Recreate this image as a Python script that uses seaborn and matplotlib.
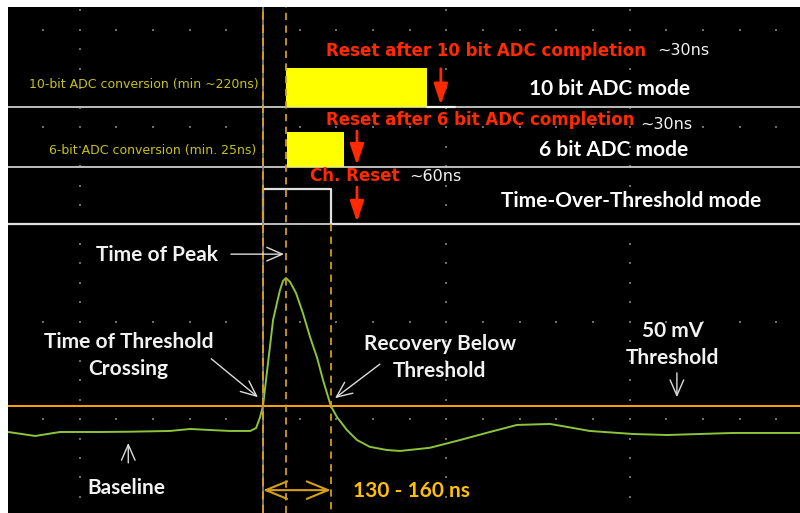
import numpy as np
import pandas as pd
import matplotlib
matplotlib.use("Agg")
import matplotlib.pyplot as plt
import seaborn as sns

# ---------------- data (time in ns rel. to threshold crossing, amplitude in mV) ----
trace_t = [-556, -497, -443, -356, -290, -203, -159, -116, -72, -28, -15, -6.5, 0,
           6.5, 15, 22, 30.5, 37, 43.6, 50, 59, 72, 87, 102.5, 118, 131, 148, 161.5,
           183, 205, 233, 270, 299, 364, 430, 495, 554, 626, 663, 713, 807, 881, 953,
           1025, 1097, 1172]
trace_v = [-3.5, -11.7, -3.5, -3.5, -2.9, -1.4, 2.7, 0.6, -1.4, -1.4, 4.7, 27, 50,
           103, 171, 227, 262, 288, 307, 313, 305, 282, 241, 192, 149, 103, 50, 27,
           0.6, -20, -34, -40.5, -42.5, -36, -20, -3.5, 11, 13, 7, -1.4, -7.6, -9.7,
           -7.6, -5.5, -5.5, -5.5]
threshold_mv = 50
event_times = [0, 50, 148]          # threshold crossing, peak, recovery

# digital channels (levels in screen mV units)
adc10_block = [50, 358]
adc10_levels = [665, 745]
adc10_trace_end = 419
adc6_block = [52, 177]
adc6_levels = [541, 613]
tot_t = [-556, 0, 0, 148, 148, 1172]
tot_v = [425, 425, 496, 496, 425, 425]
channel_baselines = [665, 541, 425]

reset_arrows_t = [388, 205, 205]
reset_arrows_v = [(743, 669), (615, 545), (500, 428)]

red_labels = ["Reset after 10 bit ADC completion", "Reset after 6 bit ADC completion", "Ch. Reset"]
red_pos = [(137, 780), (137, 638), (102, 522)]
time_labels = ["~30ns", "~30ns", "~60ns"]
time_pos = [(860, 780), (823, 628), (319, 522)]
mode_labels = ["10 bit ADC mode", "6 bit ADC mode", "Time-Over-Threshold mode"]
mode_pos = [(757, 702), (766, 576), (803, 471)]
conv_labels = ["10-bit ADC conversion (min ~220ns)", "6-bit ADC conversion (min. 25ns)"]
conv_pos = [(-9, 711), (-15, 576)]
analog_labels = ["Time of Peak", "Time of Threshold\nCrossing", "Recovery Below\nThreshold",
                 "50 mV\nThreshold", "Baseline"]
analog_pos = [(-232, 360), (-294, 153), (386, 150), (894, 177), (-299, -118)]
analog_arrows = [((-70, 362), (46, 362)), ((-113, 147), (-11, 68)), ((255, 136), (157, 66)),
                 ((903, 118), (903, 68)), ((-294, -67), (-294, -26))]
width_label = "130 - 160 ns"
width_pos = (196, -125)
width_arrow_v = -123

# ---------------- drawing ----------------
sns.set_style("white")
plt.rcParams['font.family'] = ['DejaVu Sans']

fig = plt.figure(figsize=(8, 5.13), dpi=100, facecolor="white")
ax = fig.add_axes([0.01, 0.0, 0.99, 506 / 513])
ax.set_facecolor("black")
XL = (-556.4, 1171.6)
YL = (-170, 870)
ax.set_xlim(*XL)
ax.set_ylim(*YL)
ax.set_axis_off()
ax.add_patch(plt.Rectangle((XL[0], YL[0]), XL[1] - XL[0], YL[1] - YL[0],
                           color="black", zorder=0))

# oscilloscope graticule dots
major_t = np.arange(-400, 801, 400)
major_v = np.arange(-177, 870, 200)
minor_t = np.arange(-560, 1200, 80)
minor_v = np.arange(-177, 870, 40)
gx = np.concatenate([np.repeat(major_t, len(minor_v)), np.tile(minor_t, len(major_v))])
gy = np.concatenate([np.tile(minor_v, len(major_t)), np.repeat(major_v, len(minor_t))])
ax.scatter(gx, gy, s=1.2, marker="s", color="#6e6e6e", linewidths=0, zorder=1)

# channel separator / baselines
for b in channel_baselines:
    ax.axhline(b, color="#bdbdbd", lw=1.4, zorder=2)

# 10 bit ADC block
ax.fill_between(adc10_block, adc10_levels[0], adc10_levels[1], color="#ffff00", lw=0, zorder=3)
ax.plot([adc10_block[1], adc10_trace_end], [adc10_levels[0]] * 2, color="#f0f0f0", lw=1.6, zorder=3)
# 6 bit ADC block
ax.fill_between(adc6_block, adc6_levels[0], adc6_levels[1], color="#ffff00", lw=0, zorder=3)
# TOT square pulse
ax.plot(tot_t, tot_v, color="#e0e0e0", lw=1.6, zorder=3)

# threshold line
ax.axhline(threshold_mv, color="#ffa500", lw=1.4, zorder=2)

# analog trace
df = pd.DataFrame({"t": trace_t, "v": trace_v})
sns.lineplot(data=df, x="t", y="v", ax=ax, color="#8cc43a", lw=1.4, estimator=None,
             sort=False, zorder=4)

# vertical dashed time markers
ax.plot([event_times[0]] * 2, YL, color="#8a8a8a", lw=1.2, zorder=5)
ax.plot([event_times[0]] * 2, YL, color="#e8a317", lw=1.2, ls=(0, (5, 3)), zorder=5)
ax.plot([event_times[1]] * 2, YL, color="#d49d12", lw=1.3, ls=(0, (4, 3)), zorder=5)
ax.plot([event_times[2]] * 2, [channel_baselines[2], YL[0]], color="#d49d12", lw=1.3,
        ls=(0, (4, 3)), zorder=5)

# red reset arrows
RED = "#ff2a00"
for t, (v0, v1) in zip(reset_arrows_t, reset_arrows_v):
    ax.annotate("", xy=(t, v1), xytext=(t, v0),
                arrowprops=dict(arrowstyle="-|>,head_width=0.3,head_length=0.9",
                                color=RED, lw=2, shrinkA=0, shrinkB=0, mutation_scale=14),
                zorder=6)
for s, (x, y) in zip(red_labels, red_pos):
    ax.text(x, y, s, color=RED, fontsize=12, fontweight="bold", ha="left", va="center",
            family=["DejaVu Sans"], zorder=7)
for s, (x, y) in zip(time_labels, time_pos):
    ax.text(x, y, s, color="#f2f2f2", fontsize=11.5, ha="left", va="center",
            family=["DejaVu Sans"], zorder=7)
for s, (x, y) in zip(mode_labels, mode_pos):
    ax.text(x, y, s, color="white", fontsize=15, fontweight="bold", ha="center", va="center",
            family=["Lato", "DejaVu Sans"], zorder=7)
for s, (x, y) in zip(conv_labels, conv_pos):
    ax.text(x, y, s, color="#c9c21a", fontsize=9, ha="right", va="center",
            family=["DejaVu Sans"], zorder=7)

# analog annotations
for s, (x, y) in zip(analog_labels, analog_pos):
    ax.text(x, y, s, color="#f2f2f2", fontsize=15, fontweight="bold", ha="center",
            va="center", linespacing=1.45, family=["Lato", "DejaVu Sans"], zorder=7)
for (p0, p1) in analog_arrows:
    ax.annotate("", xy=p1, xytext=p0,
                arrowprops=dict(arrowstyle="->,head_width=0.35,head_length=0.8",
                                color="#dcdcdc", lw=1.0, shrinkA=0, shrinkB=0,
                                mutation_scale=14), zorder=6)

# pulse width marker
ax.annotate("", xy=(event_times[2], width_arrow_v), xytext=(event_times[0], width_arrow_v),
            arrowprops=dict(arrowstyle="<->,head_width=0.45,head_length=1.1",
                            color="#d4a017", lw=1.5, shrinkA=0, shrinkB=0,
                            mutation_scale=14), zorder=6)
ax.text(width_pos[0], width_pos[1], width_label, color="#ffc000", fontsize=15,
        fontweight="bold", ha="left", va="center", family=["Lato", "DejaVu Sans"], zorder=7)

fig.savefig("out.png", dpi=100, facecolor="white")
